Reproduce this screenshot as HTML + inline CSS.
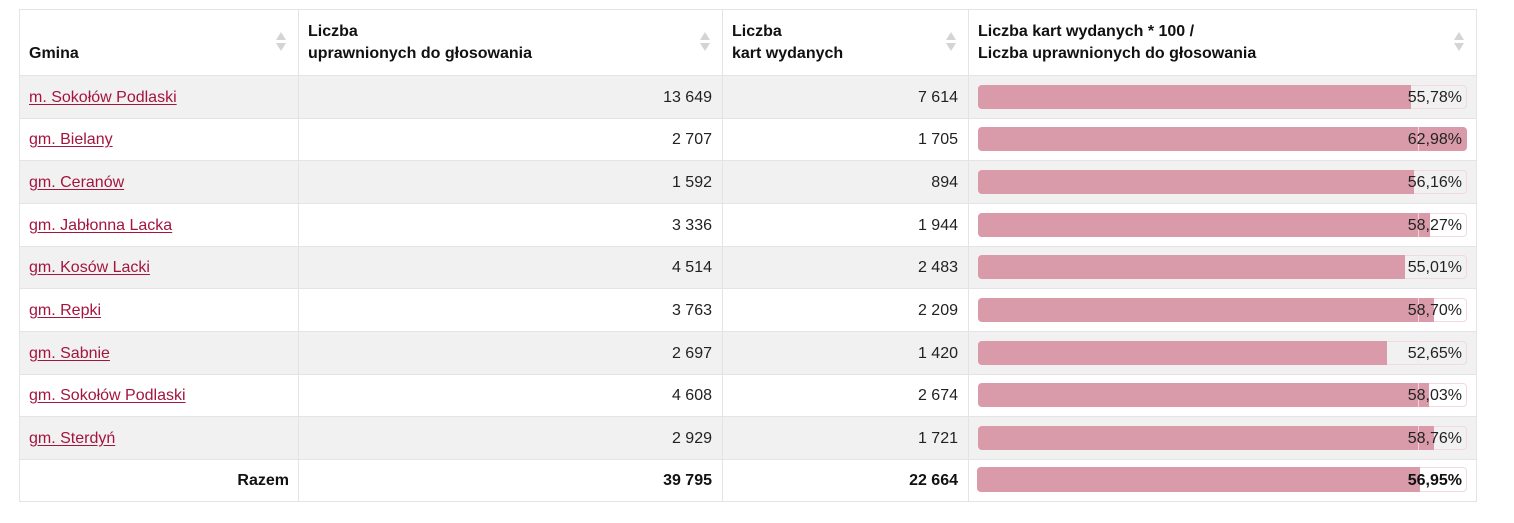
<!DOCTYPE html>
<html><head><meta charset="utf-8">
<style>
html,body{margin:0;padding:0;background:#fff;width:1514px;height:523px;overflow:hidden;font-family:"Liberation Sans",Arial,sans-serif;}
.a{position:absolute;}
.hl{position:absolute;background:#e4e4e4;}
.txt{position:absolute;font-size:16px;color:#222;white-space:nowrap;margin-top:2px;}
.lnk{color:#a3153f;text-decoration:underline;text-underline-offset:2px;}
.num{text-align:right;}
.hd{position:absolute;font-size:16px;font-weight:bold;color:#111;line-height:22px;white-space:nowrap;margin-top:1px;}
.sort{position:absolute;width:10px;height:20px;}
.track{position:absolute;left:978px;width:487px;height:22px;border:1px solid #f1d9df;border-radius:4px;background:transparent;box-sizing:content-box;}
.fill{position:absolute;left:978px;height:24px;background:#d99ba9;border-radius:4px 0 0 4px;}
.mark{position:absolute;left:1418px;width:1px;height:24px;background:rgba(250,225,232,0.75);}
.pct{position:absolute;right:52px;font-size:16px;color:#222;line-height:24px;margin-top:1px;}
</style></head><body>
<!-- stripes -->
<div class="a" style="left:19px;top:75px;width:1457px;height:43px;background:#f1f1f1"></div>
<div class="a" style="left:19px;top:160px;width:1457px;height:43px;background:#f1f1f1"></div>
<div class="a" style="left:19px;top:246px;width:1457px;height:42px;background:#f1f1f1"></div>
<div class="a" style="left:19px;top:331px;width:1457px;height:43px;background:#f1f1f1"></div>
<div class="a" style="left:19px;top:416px;width:1457px;height:43px;background:#f1f1f1"></div>

<!-- horizontal lines -->
<div class="hl" style="left:19px;top:9px;width:1458px;height:1px"></div>
<div class="hl" style="left:19px;top:75px;width:1458px;height:1px"></div>
<div class="hl" style="left:19px;top:118px;width:1458px;height:1px"></div>
<div class="hl" style="left:19px;top:160px;width:1458px;height:1px"></div>
<div class="hl" style="left:19px;top:203px;width:1458px;height:1px"></div>
<div class="hl" style="left:19px;top:246px;width:1458px;height:1px"></div>
<div class="hl" style="left:19px;top:288px;width:1458px;height:1px"></div>
<div class="hl" style="left:19px;top:331px;width:1458px;height:1px"></div>
<div class="hl" style="left:19px;top:374px;width:1458px;height:1px"></div>
<div class="hl" style="left:19px;top:416px;width:1458px;height:1px"></div>
<div class="hl" style="left:19px;top:459px;width:1458px;height:1px"></div>
<div class="hl" style="left:19px;top:501px;width:1458px;height:1px"></div>
<!-- vertical lines -->
<div class="hl" style="left:19px;top:9px;width:1px;height:493px"></div>
<div class="hl" style="left:298px;top:9px;width:1px;height:493px"></div>
<div class="hl" style="left:722px;top:9px;width:1px;height:493px"></div>
<div class="hl" style="left:968px;top:9px;width:1px;height:493px"></div>
<div class="hl" style="left:1476px;top:9px;width:1px;height:493px"></div>

<!-- header -->
<div class="hd" style="left:29px;top:42px">Gmina</div>
<div class="hd" style="left:308px;top:20px">Liczba<br>uprawnionych do głosowania</div>
<div class="hd" style="left:732px;top:20px">Liczba<br>kart wydanych</div>
<div class="hd" style="left:978px;top:20px">Liczba kart wydanych * 100 /<br>Liczba uprawnionych do głosowania</div>

<svg class="sort" style="left:276px;top:32px" viewBox="0 0 10 20"><polygon points="5,0 10,8 0,8" fill="#d4d4d4"/><polygon points="0,11 10,11 5,19" fill="#d4d4d4"/></svg>
<svg class="sort" style="left:700px;top:32px" viewBox="0 0 10 20"><polygon points="5,0 10,8 0,8" fill="#d4d4d4"/><polygon points="0,11 10,11 5,19" fill="#d4d4d4"/></svg>
<svg class="sort" style="left:946px;top:32px" viewBox="0 0 10 20"><polygon points="5,0 10,8 0,8" fill="#d4d4d4"/><polygon points="0,11 10,11 5,19" fill="#d4d4d4"/></svg>
<svg class="sort" style="left:1454px;top:32px" viewBox="0 0 10 20"><polygon points="5,0 10,8 0,8" fill="#d4d4d4"/><polygon points="0,11 10,11 5,19" fill="#d4d4d4"/></svg>

<!-- row 1 -->
<div class="txt lnk" style="left:29px;top:87px">m. Sokołów Podlaski</div>
<div class="txt num" style="right:802px;top:87px">13 649</div>
<div class="txt num" style="right:556px;top:87px">7 614</div>
<div class="track" style="top:85px"></div><div class="fill" style="top:85px;width:433px"></div><div class="mark" style="top:85px"></div><div class="pct" style="top:85px">55,78%</div>
<!-- row 2 -->
<div class="txt lnk" style="left:29px;top:129px">gm. Bielany</div>
<div class="txt num" style="right:802px;top:129px">2 707</div>
<div class="txt num" style="right:556px;top:129px">1 705</div>
<div class="track" style="top:127px"></div><div class="fill" style="top:127px;width:489px;border-radius:4px"></div><div class="mark" style="top:127px"></div><div class="pct" style="top:127px">62,98%</div>
<!-- row 3 -->
<div class="txt lnk" style="left:29px;top:172px">gm. Ceranów</div>
<div class="txt num" style="right:802px;top:172px">1 592</div>
<div class="txt num" style="right:556px;top:172px">894</div>
<div class="track" style="top:170px"></div><div class="fill" style="top:170px;width:436px"></div><div class="mark" style="top:170px"></div><div class="pct" style="top:170px">56,16%</div>
<!-- row 4 -->
<div class="txt lnk" style="left:29px;top:215px">gm. Jabłonna Lacka</div>
<div class="txt num" style="right:802px;top:215px">3 336</div>
<div class="txt num" style="right:556px;top:215px">1 944</div>
<div class="track" style="top:213px"></div><div class="fill" style="top:213px;width:452px"></div><div class="mark" style="top:213px"></div><div class="pct" style="top:213px">58,27%</div>
<!-- row 5 -->
<div class="txt lnk" style="left:29px;top:257px">gm. Kosów Lacki</div>
<div class="txt num" style="right:802px;top:257px">4 514</div>
<div class="txt num" style="right:556px;top:257px">2 483</div>
<div class="track" style="top:255px"></div><div class="fill" style="top:255px;width:427px"></div><div class="mark" style="top:255px"></div><div class="pct" style="top:255px">55,01%</div>
<!-- row 6 -->
<div class="txt lnk" style="left:29px;top:300px">gm. Repki</div>
<div class="txt num" style="right:802px;top:300px">3 763</div>
<div class="txt num" style="right:556px;top:300px">2 209</div>
<div class="track" style="top:298px"></div><div class="fill" style="top:298px;width:456px"></div><div class="mark" style="top:298px"></div><div class="pct" style="top:298px">58,70%</div>
<!-- row 7 -->
<div class="txt lnk" style="left:29px;top:343px">gm. Sabnie</div>
<div class="txt num" style="right:802px;top:343px">2 697</div>
<div class="txt num" style="right:556px;top:343px">1 420</div>
<div class="track" style="top:341px"></div><div class="fill" style="top:341px;width:409px"></div><div class="mark" style="top:341px"></div><div class="pct" style="top:341px">52,65%</div>
<!-- row 8 -->
<div class="txt lnk" style="left:29px;top:385px">gm. Sokołów Podlaski</div>
<div class="txt num" style="right:802px;top:385px">4 608</div>
<div class="txt num" style="right:556px;top:385px">2 674</div>
<div class="track" style="top:383px"></div><div class="fill" style="top:383px;width:451px"></div><div class="mark" style="top:383px"></div><div class="pct" style="top:383px">58,03%</div>
<!-- row 9 -->
<div class="txt lnk" style="left:29px;top:428px">gm. Sterdyń</div>
<div class="txt num" style="right:802px;top:428px">2 929</div>
<div class="txt num" style="right:556px;top:428px">1 721</div>
<div class="track" style="top:426px"></div><div class="fill" style="top:426px;width:456px"></div><div class="mark" style="top:426px"></div><div class="pct" style="top:426px">58,76%</div>
<!-- total -->
<div class="txt" style="right:1225px;top:470px;font-weight:bold;color:#111">Razem</div>
<div class="txt num" style="right:802px;top:470px;font-weight:bold;color:#111">39 795</div>
<div class="txt num" style="right:556px;top:470px;font-weight:bold;color:#111">22 664</div>
<div class="track" style="top:467px;left:977px;width:488px;height:23px"></div><div class="fill" style="top:467px;left:977px;width:443px;height:25px"></div><div class="pct" style="top:468px;font-weight:bold;color:#111">56,95%</div>
</body></html>
